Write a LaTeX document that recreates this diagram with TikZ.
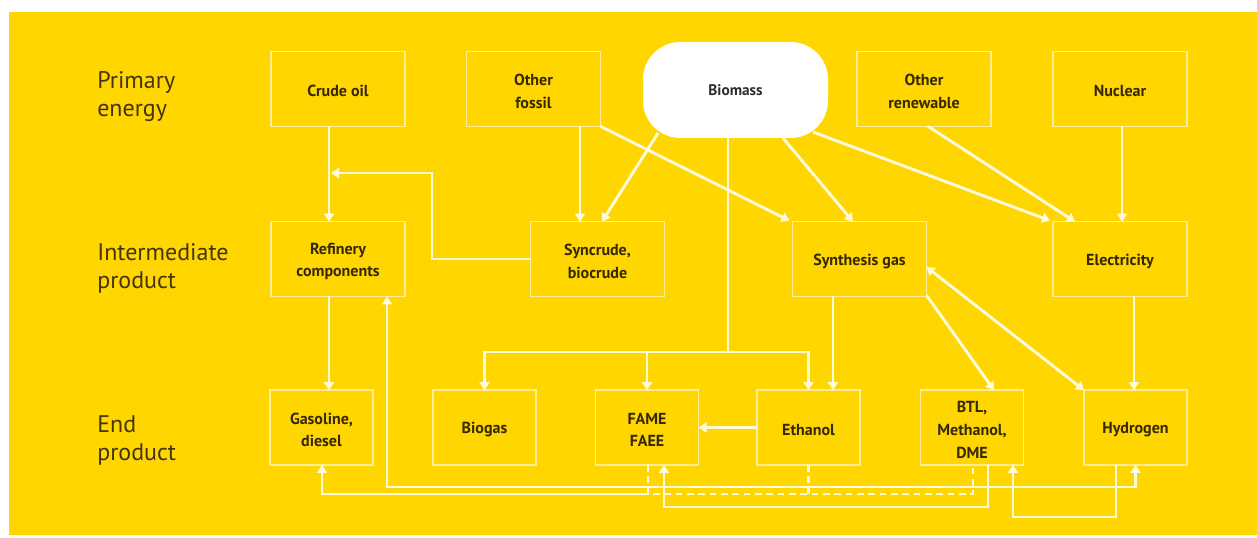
\documentclass[tikz,border=0pt]{standalone}
\usepackage{fontspec}
\setmainfont{PT Sans}
\usetikzlibrary{arrows.meta,calc}
\definecolor{bg}{RGB}{255,214,0}
\definecolor{edge}{RGB}{255,238,150}
\definecolor{wire}{RGB}{255,250,220}
\definecolor{ink}{RGB}{55,40,5}
\definecolor{tagink}{RGB}{68,52,12}
\definecolor{bioink}{RGB}{45,45,45}

\begin{document}
\begin{tikzpicture}[x=0.75pt,y=-0.75pt,
  boxtext/.style={inner sep=0pt,align=center,text=ink,
    font=\bfseries\fontsize{12}{17}\selectfont,yshift=-1.8pt},
  box/.style={draw=edge,line width=1.2pt,inner sep=0pt,outer sep=0pt,
    label={[boxtext]center:{#1}}},
  wide/.style={box={#1},minimum width=100.5pt,minimum height=56pt},
  narrow/.style={box={#1},minimum width=77.25pt,minimum height=56pt},
  tag/.style={anchor=west,align=left,text=tagink,inner sep=0pt,
    font=\fontsize{18}{21}\selectfont},
  tip/.tip={Triangle[width=7.5pt,length=6pt]},
  wire/.style={draw=wire,line width=2.2pt},
  feed/.style={wire,-tip},
  dashwire/.style={draw=wire,line width=1.6pt,dash pattern=on 5pt off 3.5pt},
]
\useasboundingbox (0,0) rectangle (1257,538);
\fill[white] (0,0) rectangle (1257,538);
\fill[bg] (9,12) rectangle (1257,535);

% row labels
\node[tag] (lp) at (97,97) {Primary\\energy};
\node[tag] (li) at (97,268) {Intermediate\\product};
\node[tag] (le) at (97,440) {End\\product};

% primary energy
\node[wide={Crude oil}] (crude) at (338,89) {};
\node[wide={Other\\fossil}] (ofossil) at (533.5,89) {};
\node[fill=white,rounded corners=28pt,inner sep=0pt,outer sep=0pt,
  minimum width=138.75pt,minimum height=72pt,text=bioink,
  font=\bfseries\fontsize{11.5}{17}\selectfont] (biomass) at (735.5,90) {Biomass};
\node[wide={Other\\renewable}] (orenew) at (924,89) {};
\node[wide={Nuclear}] (nuclear) at (1120,89) {};

% intermediate products
\node[wide={Refinery\\components}] (refinery) at (338,259) {};
\node[wide={Syncrude,\\biocrude}] (syncrude) at (597.5,259) {};
\node[wide={Synthesis gas}] (synth) at (859.5,259) {};
\node[wide={Electricity}] (elec) at (1120,259) {};

% end products
\node[narrow={Gasoline,\\diesel}] (gasoline) at (321.5,427.5) {};
\node[narrow={Biogas}] (biogas) at (484.5,427.5) {};
\node[narrow={FAME\\FAEE}] (fame) at (647,427.5) {};
\node[narrow={Ethanol}] (ethanol) at (808.5,427.5) {};
\node[narrow={BTL,\\Methanol,\\DME}] (btl) at (972,427.5) {};
\node[narrow={Hydrogen}] (hydrogen) at (1135.5,427.5) {};

% column positions of the vertical runs
\coordinate (xa) at (329,0);
\coordinate (xb) at (580,0);
\coordinate (xc) at (602,0);
\coordinate (xd) at (853,0);
\coordinate (xe) at (928,0);
\coordinate (xf) at (1075,0);
\coordinate (xg) at (1122,0);
\coordinate (xh) at (1134,0);
\coordinate (xi) at (728,0);
\coordinate (xj) at (833,0);

% crude oil line and the syncrude return
\draw[feed] (crude.south -| xa) -- (refinery.north -| xa);
\coordinate (sj) at (432,173);
\coordinate (sjend) at (331,173);
\draw[feed] (syncrude.west) -| (sj) -- (sjend);

% into syncrude
\draw[feed] (ofossil.south -| xb) -- (syncrude.north -| xb);
\draw[feed] ($(biomass.center)+(-77.5,43)$) -- (syncrude.north -| xc);

% into synthesis gas
\draw[feed] (ofossil.south east) -- ($(synth.north west)+(-3,-1)$);
\draw[feed] ($(biomass.south)+(47.5,0)$) -- (synth.north -| xd);

% into electricity
\draw[feed] ($(biomass.center)+(77.5,42)$) -- ($(elec.north west)+(-3,-1)$);
\draw[feed] (orenew.south -| xe) -- (elec.north -| xf);
\draw[feed] (nuclear.south -| xg) -- (elec.north -| xg);

% biomass distribution line
\coordinate (bus) at (728,352);
\draw[wire] (biomass.south -| xi) -- (bus);
\draw[feed] (bus) -| (biogas.north);
\draw[feed] (bus) -| (ethanol.north);
\draw[feed] (fame.north |- bus) -- (fame.north);

% from synthesis gas
\draw[feed] (synth.south -| xj) -- (ethanol.north -| xj);
\draw[feed] ($(synth.south east)+(0,-1)$) -- ($(btl.north)+(22,0)$);
\draw[wire,tip-tip] ($(synth.east)+(0,8)$) -- (hydrogen.north west);

% electricity to hydrogen, ethanol to FAME, refinery to gasoline
\draw[feed] (elec.south -| xh) -- (hydrogen.north -| xh);
\draw[feed] (ethanol.west) -- (fame.east);
\draw[feed] (refinery.south -| xa) -- (gasoline.north -| xa);

% return lines below the end products
\coordinate (r1) at (387,487);
\coordinate (r2) at (1135.5,487);
\draw[wire,tip-tip] (refinery.south -| r1) -- (r1) -- (r2) -- (hydrogen.south);

\coordinate (g1) at (322,494);
\coordinate (g2) at (648,494);
\coordinate (g3) at (973,494);
\draw[feed] (g2) -- (g1) -- (gasoline.south -| g1);
\draw[dashwire] (fame.south -| g2) -- (g2) -- (g3) -- (btl.south -| g3);
\coordinate (e1) at (808.5,494);
\draw[dashwire] (ethanol.south) -- (e1);

\coordinate (m1) at (988,507);
\coordinate (m2) at (664,507);
\draw[feed] (btl.south -| m1) -- (m1) -- (m2) -- (fame.south -| m2);

\coordinate (h1) at (1116,517);
\coordinate (h2) at (1013,517);
\draw[feed] (hydrogen.south -| h1) -- (h1) -- (h2) -- (btl.south -| h2);
\end{tikzpicture}
\end{document}
